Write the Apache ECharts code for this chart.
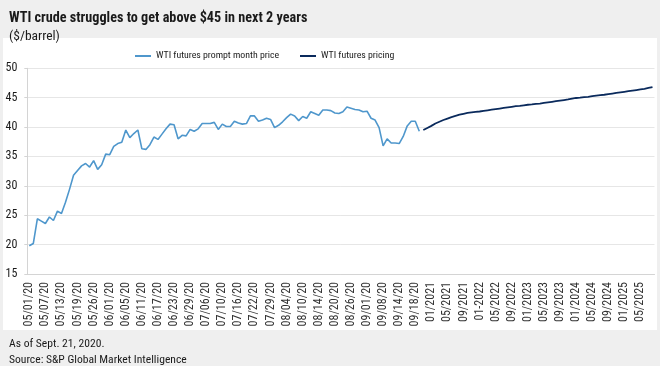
<!DOCTYPE html>
<html>
<head>
<meta charset="utf-8">
<script src="https://cdn.jsdelivr.net/npm/echarts@6/dist/echarts.min.js"></script>
<style>
html,body{margin:0;padding:0;background:#efefef;}
#chart{width:660px;height:366px;}
</style>
</head>
<body>
<div id="chart"></div>
<script>
// Daily prompt-month dates (trading days)
const promptDates = [
  '05/01/20','05/04/20','05/05/20','05/06/20','05/07/20','05/08/20','05/11/20','05/12/20','05/13/20','05/14/20',
  '05/15/20','05/18/20','05/19/20','05/20/20','05/21/20','05/22/20','05/26/20','05/27/20','05/28/20','05/29/20',
  '06/01/20','06/02/20','06/03/20','06/04/20','06/05/20','06/08/20','06/09/20','06/10/20','06/11/20','06/12/20',
  '06/15/20','06/16/20','06/17/20','06/18/20','06/19/20','06/22/20','06/23/20','06/24/20','06/25/20','06/26/20',
  '06/29/20','06/30/20','07/01/20','07/02/20','07/06/20','07/07/20','07/08/20','07/09/20','07/10/20','07/13/20',
  '07/14/20','07/15/20','07/16/20','07/17/20','07/20/20','07/21/20','07/22/20','07/23/20','07/24/20','07/27/20',
  '07/29/20','07/30/20','07/31/20','08/03/20','08/04/20','08/05/20','08/06/20','08/07/20','08/10/20','08/11/20',
  '08/12/20','08/13/20','08/14/20','08/17/20','08/18/20','08/19/20','08/20/20','08/21/20','08/24/20','08/25/20',
  '08/26/20','08/27/20','08/28/20','08/31/20','09/01/20','09/02/20','09/03/20','09/04/20','09/08/20','09/09/20',
  '09/10/20','09/11/20','09/14/20','09/15/20','09/16/20','09/17/20','09/18/20','09/21/20'
];
// Monthly futures contract months
const futuresMonths = [
  '11/2020','12/2020',
  '01/2021','02/2021','03/2021','04/2021','05/2021','06/2021','07/2021','08/2021','09/2021','10/2021','11/2021','12/2021',
  '01-2022','02/2022','03/2022','04/2022','05/2022','06/2022','07/2022','08/2022','09/2022','10/2022','11/2022','12/2022',
  '01/2023','02/2023','03/2023','04/2023','05/2023','06/2023','07/2023','08/2023','09/2023','10/2023','11/2023','12/2023',
  '01/2024','02/2024','03/2024','04/2024','05/2024','06/2024','07/2024','08/2024','09/2024','10/2024','11/2024','12/2024',
  '01/2025','02/2025','03/2025','04/2025','05/2025','06/2025','07/2025','08/2025'
];
// WTI futures prompt month price ($/barrel)
const promptPrice = [
  19.8,20.2,24.4,24.0,23.6,24.7,24.1,25.7,25.3,27.2,
  29.4,31.8,32.6,33.4,33.8,33.2,34.3,32.8,33.6,35.4,
  35.3,36.7,37.2,37.4,39.5,38.2,38.9,39.5,36.3,36.2,
  37.0,38.3,37.9,38.8,39.7,40.5,40.4,38.0,38.6,38.5,
  39.6,39.3,39.7,40.6,40.6,40.6,40.8,39.6,40.5,40.1,
  40.1,41.0,40.7,40.5,40.6,41.9,41.9,41.0,41.2,41.5,
  41.3,39.9,40.3,40.9,41.6,42.2,41.9,41.1,41.8,41.5,
  42.6,42.3,42.0,42.9,42.9,42.8,42.4,42.3,42.6,43.4,
  43.2,43.0,42.9,42.6,42.7,41.5,41.2,39.9,36.8,38.0,
  37.3,37.3,37.2,38.4,40.2,41.0,41.0,39.3
];
// WTI futures pricing ($/barrel)
const futuresPrice = [
  39.5,39.85,
  40.2,40.6,40.9,41.2,41.45,41.7,41.9,42.1,42.25,42.4,42.5,42.6,
  42.65,42.75,42.85,42.95,43.05,43.15,43.25,43.35,43.45,43.55,43.6,43.7,
  43.8,43.85,43.95,44.0,44.1,44.2,44.3,44.4,44.5,44.6,44.7,44.85,
  44.95,45.0,45.1,45.15,45.25,45.35,45.45,45.5,45.6,45.7,45.8,45.9,
  46.0,46.1,46.2,46.3,46.4,46.5,46.65,46.8
];
const yTicks = {min: 15, max: 50, interval: 5};

const categories = promptDates.concat(futuresMonths);
const promptData = promptPrice.slice();
const futuresData = promptDates.map(() => '-').concat(futuresPrice);

const cond = '"Roboto Condensed", "Open Sans", sans-serif';
const ink = '#1a1a1a';
const chart = echarts.init(document.getElementById('chart'), null, {renderer: 'canvas'});
chart.setOption({
  backgroundColor: '#efefef',
  animation: false,
  graphic: {
    elements: [{
      type: 'rect', z: -10, silent: true,
      shape: {x: 3, y: 38, width: 654, height: 292},
      style: {fill: '#ffffff'}
    }]
  },
  title: [
    {text: 'WTI crude struggles to get above $45 in next 2 years', left: 4, top: 6,
     textStyle: {fontFamily: cond, fontWeight: 'bold', fontSize: 14.2, color: ink}},
    {text: '($/barrel)', left: 4, top: 25,
     textStyle: {fontFamily: cond, fontWeight: 'normal', fontSize: 13.5, color: ink}},
    {text: 'As of Sept. 21, 2020.', left: 4, top: 333,
     textStyle: {fontFamily: cond, fontWeight: 'normal', fontSize: 11.6, color: ink}},
    {text: 'Source: S&P Global Market Intelligence', left: 4, top: 349,
     textStyle: {fontFamily: cond, fontWeight: 'normal', fontSize: 11.6, color: ink}}
  ],
  legend: [
    {left: 130, top: 46, itemWidth: 16, itemHeight: 2, icon: 'rect',
     data: ['WTI futures prompt month price'],
     textStyle: {fontFamily: cond, fontSize: 9.8, color: ink}},
    {left: 295, top: 46, itemWidth: 16, itemHeight: 2, icon: 'rect',
     data: ['WTI futures pricing'],
     textStyle: {fontFamily: cond, fontSize: 9.8, color: ink}}
  ],
  grid: {left: 27.3, right: 5.5, top: 68.3, bottom: 92, containLabel: false},
  xAxis: {
    type: 'category',
    data: categories,
    boundaryGap: true,
    axisLine: {show: true, lineStyle: {color: '#d4d4d4', width: 1}},
    axisTick: {show: false},
    axisLabel: {interval: 3, rotate: 90, margin: 8, fontSize: 12,
                fontFamily: cond, color: '#333333'},
    splitLine: {show: false}
  },
  yAxis: {
    type: 'value',
    min: yTicks.min, max: yTicks.max, interval: yTicks.interval,
    axisLine: {show: true, lineStyle: {color: '#d4d4d4', width: 1}},
    axisTick: {show: true, length: 3, lineStyle: {color: '#d4d4d4'}},
    axisLabel: {margin: 10, fontSize: 12, fontFamily: cond, color: ink},
    splitLine: {show: true, lineStyle: {color: '#e6e6e6', width: 1}}
  },
  series: [
    {name: 'WTI futures prompt month price', type: 'line', data: promptData,
     showSymbol: false, symbol: 'none', lineStyle: {color: '#4f97cc', width: 1.6},
     itemStyle: {color: '#4f97cc'}},
    {name: 'WTI futures pricing', type: 'line', data: futuresData,
     showSymbol: false, symbol: 'none', lineStyle: {color: '#0a2a5c', width: 1.8},
     itemStyle: {color: '#0a2a5c'}}
  ]
});
</script>
</body>
</html>
